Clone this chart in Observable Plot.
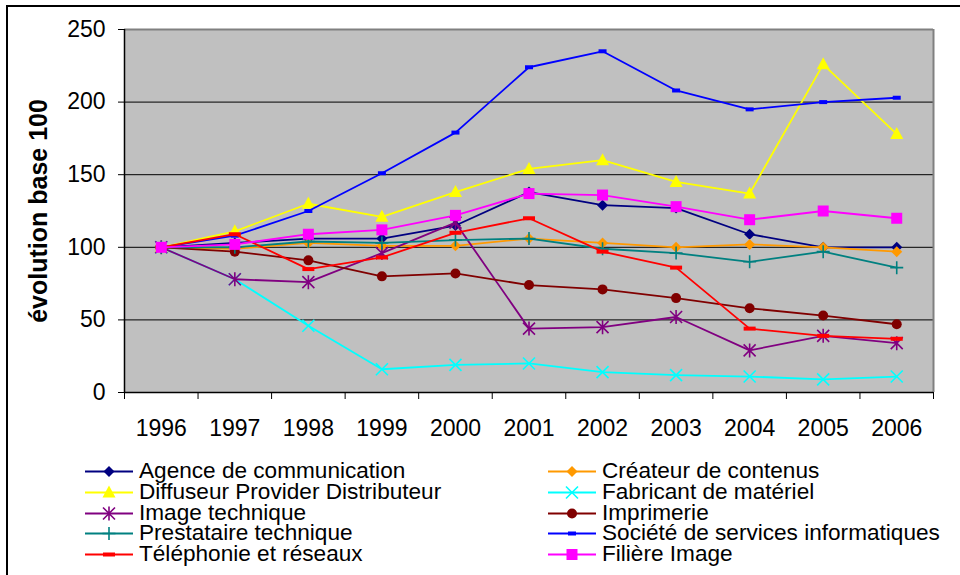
<!DOCTYPE html>
<html>
<head>
<meta charset="utf-8">
<script src="https://cdn.jsdelivr.net/npm/d3@7"></script>
<script src="https://cdn.jsdelivr.net/npm/@observablehq/plot@0.6"></script>
<style>
  html, body { margin: 0; padding: 0; background: #fff; overflow: hidden; }
  #wrap { position: relative; width: 960px; height: 575px; overflow: hidden; font-family: "Liberation Sans", Arial, sans-serif; }
  #border { position: absolute; left: 6px; top: 5px; width: 1000px; height: 620px; border: 2px solid #000; box-sizing: border-box; }
  #chart { position: absolute; left: 0; top: 0; }
  #legend { position: absolute; left: 0; top: 0; width: 960px; }
  .item { position: absolute; height: 21px; font-size: 22.6px; white-space: nowrap; color: #000; }
  .item svg { position: absolute; left: 0; top: 0; }
  .item span { position: absolute; left: 54px; top: 0; display: block; height: 20px; line-height: 20px; overflow: visible; }
</style>
</head>
<body>
<div id="wrap">
  <div id="border"></div>
  <div id="chart"></div>
  <div id="legend"></div>
</div>
<script>
// ---- data ----
const years = [1996, 1997, 1998, 1999, 2000, 2001, 2002, 2003, 2004, 2005, 2006];
const yTicks = [0, 50, 100, 150, 200, 250];
const seriesNames = [
  "Agence de communication",
  "Créateur de contenus",
  "Diffuseur Provider Distributeur",
  "Fabricant de matériel",
  "Image technique",
  "Imprimerie",
  "Prestataire technique",
  "Société de services informatiques",
  "Téléphonie et réseaux",
  "Filière Image"
];
const agence      = [100, 103, 106, 106, 115, 138, 129, 127, 109, 100, 100];
const createur    = [100,  99, 103, 101, 101, 106, 103, 100, 102, 100,  97];
const diffuseur   = [100, 111, 130, 121, 138, 154, 160, 145, 137, 226, 178];
const fabricant   = [100,  78,  46,  16,  19,  20,  14,  12,  11,   9,  11];
const imageTech   = [100,  78,  76,  96, 117,  44,  45,  52,  29,  39,  34];
const imprimerie  = [100,  97,  91,  80,  82,  74,  71,  65,  58,  53,  47];
const prestataire = [100, 100, 104, 103, 105, 106,  99,  96,  90,  97,  86];
const societe     = [100, 108, 125, 151, 179, 224, 235, 208, 195, 200, 203];
const telephonie  = [100, 109,  85,  93, 110, 120,  97,  86,  44,  39,  37];
const filiere     = [100, 102, 109, 112, 122, 137, 136, 128, 119, 125, 120];
const seriesValues = [agence, createur, diffuseur, fabricant, imageTech, imprimerie, prestataire, societe, telephonie, filiere];
const seriesColors = ["#000080", "#FF9900", "#FFFF00", "#00FFFF", "#800080", "#800000", "#008080", "#0000FF", "#FF0000", "#FF00FF"];

// ---- marker shapes ----
const shapes = {
  diamond:  {filled: true,  draw(c) { c.moveTo(0, -5.5); c.lineTo(5.5, 0); c.lineTo(0, 5.5); c.lineTo(-5.5, 0); c.closePath(); }},
  triangle: {filled: true,  draw(c) { c.moveTo(0, -7); c.lineTo(6.5, 5); c.lineTo(-6.5, 5); c.closePath(); }},
  times:    {filled: false, draw(c) { c.moveTo(-6, -6); c.lineTo(6, 6); c.moveTo(-6, 6); c.lineTo(6, -6); }},
  asterisk: {filled: false, draw(c) { c.moveTo(-6, -6); c.lineTo(6, 6); c.moveTo(-6, 6); c.lineTo(6, -6); c.moveTo(0, -7); c.lineTo(0, 7); }},
  circle:   {filled: true,  draw(c) { c.moveTo(5, 0); c.arc(0, 0, 5, 0, 2 * Math.PI); c.closePath(); }},
  plus:     {filled: false, draw(c) { c.moveTo(-6.5, 0); c.lineTo(6.5, 0); c.moveTo(0, -6.5); c.lineTo(0, 6.5); }},
  dashS:    {filled: true,  draw(c) { c.rect(-4, -2, 8, 4); }},
  dashW:    {filled: true,  draw(c) { c.rect(-6, -2, 12, 4); }},
  square:   {filled: true,  draw(c) { c.rect(-5.5, -5.5, 11, 11); }}
};
const seriesShapes = ["diamond", "diamond", "triangle", "times", "asterisk", "circle", "plus", "dashS", "dashW", "square"];

// ---- chart ----
const x0 = years[0] - 0.5, x1 = years[years.length - 1] + 0.5;
const boundaries = d3.range(years.length + 1).map(i => x0 + i);

const seriesMarks = [];
seriesNames.forEach((name, k) => {
  const data = years.map((year, i) => ({year, value: seriesValues[k][i], name}));
  const color = seriesColors[k];
  const sh = shapes[seriesShapes[k]];
  seriesMarks.push(Plot.line(data, {x: "year", y: "value", stroke: color, strokeWidth: 1.8}));
  seriesMarks.push(Plot.dot(data, {
    x: "year", y: "value", symbol: sh, r: 5,
    fill: sh.filled ? color : "none",
    stroke: sh.filled ? "none" : color,
    strokeWidth: sh.filled ? 0 : 1.6
  }));
});

const chart = Plot.plot({
  width: 960,
  height: 450,
  marginLeft: 124,
  marginRight: 27,
  marginTop: 29,
  marginBottom: 58,
  style: {fontFamily: "'Liberation Sans', Arial, sans-serif", fontSize: "23px", background: "transparent", color: "#000"},
  x: {domain: [x0, x1]},
  y: {domain: [0, 250]},
  marks: [
    Plot.frame({fill: "#c0c0c0", stroke: "none"}),
    Plot.ruleY([50, 100, 150, 200], {stroke: "#000", strokeWidth: 1}),
    Plot.ruleY([250], {stroke: "#808080", strokeWidth: 2}),
    Plot.ruleX([x1], {stroke: "#808080", strokeWidth: 2}),
    Plot.axisY(yTicks, {tickSize: 6, tickPadding: 13, fontSize: 23, label: null, tickFormat: d => String(d), stroke: "#000"}),
    Plot.axisX(boundaries, {tickSize: 7, tickFormat: () => "", label: null, stroke: "#000"}),
    Plot.axisX(years, {tickSize: 0, tickPadding: 27, fontSize: 23, tickFormat: d => String(d), label: null}),
    Plot.ruleX([x0], {stroke: "#000", strokeWidth: 1.5}),
    Plot.ruleY([0], {stroke: "#000", strokeWidth: 1.5}),
    ...seriesMarks,
    Plot.text(["évolution base 100"], {frameAnchor: "left", dx: -86, rotate: -90, textAnchor: "middle", lineAnchor: "middle", fontSize: 25, fontWeight: "bold", fill: "#000"})
  ]
});
document.getElementById("chart").appendChild(chart);

// ---- legend ----
const legend = d3.select("#legend");
const colX = [85, 548];
const rowTop = 461;
const rowH = 20.8;
seriesNames.forEach((name, k) => {
  const col = k % 2, row = Math.floor(k / 2);
  const item = legend.append("div").attr("class", "item")
    .style("left", colX[col] + "px")
    .style("top", (rowTop + row * rowH) + "px");
  const svg = item.append("svg").attr("width", 50).attr("height", 21);
  svg.append("line").attr("x1", 0).attr("x2", 48).attr("y1", 10.5).attr("y2", 10.5)
    .attr("stroke", seriesColors[k]).attr("stroke-width", 1.8);
  const sh = shapes[seriesShapes[k]];
  svg.append("path").attr("transform", "translate(24,10.5)")
    .attr("d", d3.symbol().type(sh)())
    .attr("fill", sh.filled ? seriesColors[k] : "none")
    .attr("stroke", sh.filled ? "none" : seriesColors[k])
    .attr("stroke-width", sh.filled ? 0 : 1.6);
  item.append("span").text(name);
});
</script>
</body>
</html>
